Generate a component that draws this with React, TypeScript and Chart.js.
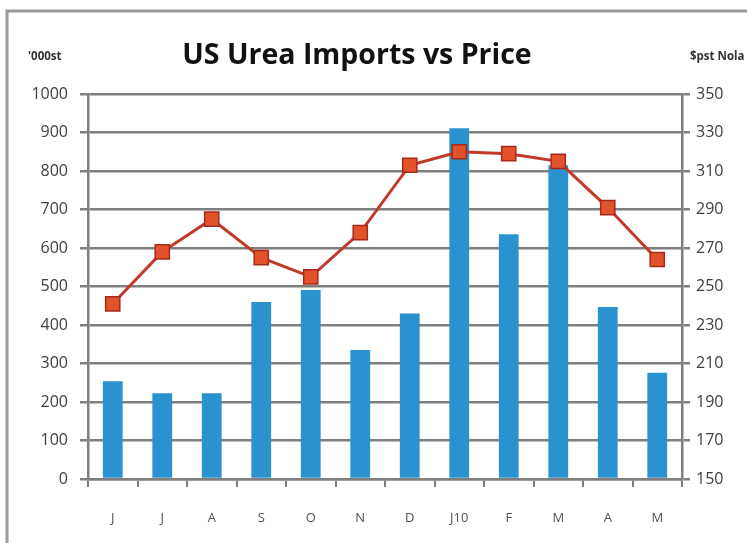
import React, { useEffect, useRef } from "react";
import { Chart, registerables } from "chart.js";

Chart.register(...registerables);

const categories = ["J", "J", "A", "S", "O", "N", "D", "J10", "F", "M", "A", "M"];
const importsKt = [254, 223, 223, 460, 491, 335, 430, 911, 636, 815, 447, 276];
const priceNola = [241, 268, 285, 265, 255, 278, 313, 320, 319, 315, 291, 264];
const leftRange = { min: 0, max: 1000, step: 100 };
const rightRange = { min: 150, max: 350, step: 20 };
const titleText = "US Urea Imports vs Price";
const leftUnit = "'000st";
const rightUnit = "$pst Nola";

const FONT = '"Open Sans", Lato, sans-serif';
const GRID = "#7f7f7f";

const decorPlugin = {
  id: "decor",
  beforeDraw(chart: any) {
    const ctx = chart.ctx;
    ctx.save();
    ctx.fillStyle = "#ffffff";
    ctx.fillRect(0, 0, chart.width, chart.height);
    ctx.strokeStyle = "#9a9a9a";
    ctx.lineWidth = 3;
    ctx.beginPath();
    ctx.moveTo(7, chart.height);
    ctx.lineTo(7, 11);
    ctx.lineTo(chart.width, 11);
    ctx.stroke();
    ctx.restore();
  },
  afterDraw(chart: any) {
    const ctx = chart.ctx;
    ctx.save();
    ctx.textBaseline = "middle";
    ctx.fillStyle = "#111111";
    ctx.textAlign = "center";
    ctx.font = `bold 28.5px ${FONT}`;
    ctx.fillText(titleText, 357, 56);
    ctx.fillStyle = "#333333";
    ctx.font = `bold 11.5px ${FONT}`;
    ctx.textAlign = "left";
    ctx.fillText(leftUnit, 28, 57);
    ctx.fillText(rightUnit, 690, 57);
    ctx.restore();
  },
};

export default function App() {
  const ref = useRef<HTMLCanvasElement | null>(null);
  useEffect(() => {
    if (!ref.current) return;
    const chart = new Chart(ref.current, {
      type: "bar",
      data: {
        labels: categories,
        datasets: [
          {
            type: "line",
            data: priceNola,
            yAxisID: "y1",
            borderColor: "#c0392b",
            borderWidth: 3,
            pointStyle: "rect",
            pointRadius: 10,
            pointBackgroundColor: "#e2532b",
            pointBorderColor: "#a8281c",
            pointBorderWidth: 1.5,
            tension: 0,
            order: 1,
          } as any,
          {
            type: "bar",
            data: importsKt,
            yAxisID: "y",
            backgroundColor: "#2b92d0",
            barPercentage: 0.4,
            categoryPercentage: 1,
            order: 2,
          },
        ],
      },
      options: {
        responsive: false,
        animation: false,
        devicePixelRatio: 1,
        layout: { autoPadding: false, padding: { top: 94, left: 0, right: 0, bottom: 0 } },
        plugins: { legend: { display: false }, tooltip: { enabled: false }, title: { display: false } },
        scales: {
          x: {
            offset: true,
            grid: { drawOnChartArea: false, drawTicks: true, tickLength: 8, color: GRID, lineWidth: 2, offset: true },
            border: { display: true, color: GRID, width: 2.5 },
            ticks: { color: "#505050", font: { family: FONT, size: 13 }, padding: 23 },
            afterFit: (s: any) => { s.height = 64; },
          },
          y: {
            position: "left",
            min: leftRange.min,
            max: leftRange.max,
            ticks: {
              stepSize: leftRange.step,
              color: "#404040",
              font: { family: FONT, size: 16 },
              padding: 12,
              callback: (v: any) => String(v),
            },
            grid: { color: GRID, lineWidth: 2.5, tickLength: 8, drawTicks: true },
            border: { display: true, color: GRID, width: 2.5 },
            afterFit: (s: any) => { s.width = 88; },
          },
          y1: {
            position: "right",
            min: rightRange.min,
            max: rightRange.max,
            ticks: {
              stepSize: rightRange.step,
              color: "#404040",
              font: { family: FONT, size: 16 },
              padding: 6,
              callback: (v: any) => String(v),
            },
            grid: { drawOnChartArea: false, color: GRID, lineWidth: 2.5, tickLength: 8, drawTicks: true },
            border: { display: true, color: GRID, width: 2.5 },
            afterFit: (s: any) => { s.width = 65; },
          },
        },
      },
      plugins: [decorPlugin],
    });
    return () => chart.destroy();
  }, []);
  return (
    <div style={{ position: "fixed", left: 0, top: 0, width: 747, height: 543 }}>
      <canvas ref={ref} width={747} height={543} style={{ width: 747, height: 543, display: "block" }} />
    </div>
  );
}
